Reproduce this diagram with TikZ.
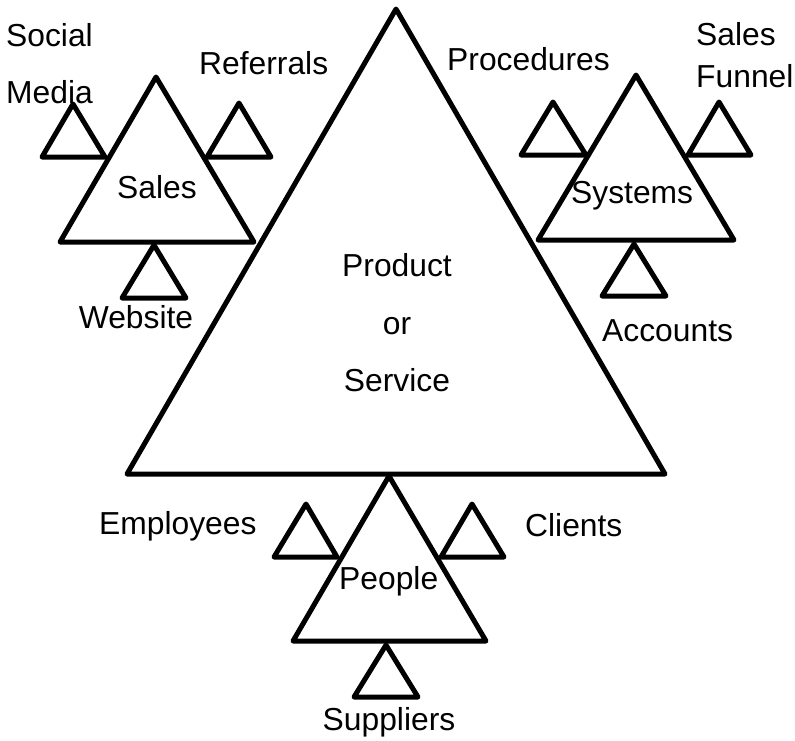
\documentclass[tikz,border=0pt]{standalone}
\usepackage{fontspec}
\setmainfont{Liberation Sans}
\begin{document}
\begin{tikzpicture}[x=1pt,y=-1pt,
  tri/.style={draw=black,line width=5pt,line join=round},
  lbl/.style={inner sep=0pt,font=\fontsize{31.8}{37}\selectfont},
  lblw/.style={lbl,anchor=base west},
  lblc/.style={lbl,anchor=base}]
\useasboundingbox (0,0) rectangle (795,740);

% central triangle
\draw[tri] (396,9) -- (127,474) -- (665,474) -- cycle;

% Sales group
\draw[tri] (156,77) -- (60,242) -- (254,242) -- cycle;
\draw[tri] (73,104) -- (42,157) -- (105,157) -- cycle;
\draw[tri] (239,103) -- (207,157) -- (271,157) -- cycle;
\draw[tri] (154,245) -- (122,298) -- (186,298) -- cycle;

% Systems group
\draw[tri] (636,75) -- (538,240) -- (734,240) -- cycle;
\draw[tri] (553,102) -- (521,155) -- (586,155) -- cycle;
\draw[tri] (719,102) -- (688,155) -- (751,155) -- cycle;
\draw[tri] (634,244) -- (602,296) -- (666,296) -- cycle;

% People group
\draw[tri] (389,476) -- (293,641) -- (486,641) -- cycle;
\draw[tri] (306,504) -- (274,557) -- (337,557) -- cycle;
\draw[tri] (472,504) -- (441,557) -- (504,557) -- cycle;
\draw[tri] (386,645) -- (354,697) -- (418,697) -- cycle;

% labels
\node[lblw] (social) at (6,46) {Social};
\node[lblw] (media) at (6,103) {Media};
\node[lblw] (referrals) at (199,74) {Referrals};
\node[lblc] (sales) at (157,198) {Sales};
\node[lblc] (website) at (136,328) {Website};

\node[lblw] (procedures) at (447,70) {Procedures};
\node[lblw] (salesf) at (696,45) {Sales};
\node[lblw] (funnel) at (696,87) {Funnel};
\node[lblw] (systems) at (571,203) {Systems};
\node[lblw] (accounts) at (602,341) {Accounts};

\node[lblc] (product) at (397,276) {Product};
\node[lblc] (or) at (397,334) {or};
\node[lblc] (service) at (397,391) {Service};

\node[lblw] (employees) at (99,534) {Employees};
\node[lblw] (clients) at (525,536) {Clients};
\node[lblw] (people) at (339,589) {People};
\node[lblc] (suppliers) at (389,730) {Suppliers};
\end{tikzpicture}
\end{document}
